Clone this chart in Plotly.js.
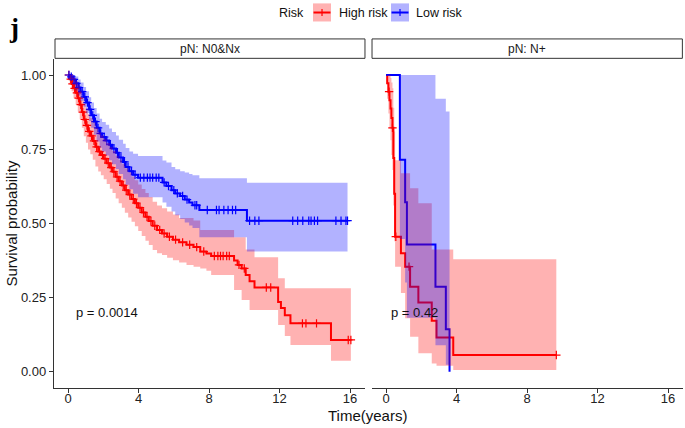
<!DOCTYPE html>
<html>
<head>
<meta charset="utf-8">
<script src="https://cdn.plot.ly/plotly-3.0.1.min.js"></script>
<style>
  body { margin: 0; background: #fff; }
  #km { width: 685px; height: 428px; }
</style>
</head>
<body>
<div id="km"></div>
<script>
// pN: N0&Nx panel - Low risk (blue)
var lowT = [0, 0.12, 0.27, 0.41, 0.58, 0.71, 0.88, 1.02, 1.19, 1.31, 1.47, 1.62, 1.79, 1.93, 2.14, 2.33, 2.49, 2.72, 2.88, 3.12, 3.27, 3.48, 3.69, 3.97, 5.36, 5.58, 5.87, 6.08, 6.36, 6.62, 6.87, 7.06, 7.45, 10.15, 15.86];
var lowS = [1, 0.994, 0.985, 0.972, 0.958, 0.944, 0.926, 0.907, 0.884, 0.864, 0.843, 0.822, 0.803, 0.791, 0.779, 0.765, 0.752, 0.738, 0.722, 0.707, 0.69, 0.676, 0.664, 0.654, 0.638, 0.626, 0.612, 0.601, 0.592, 0.58, 0.57, 0.561, 0.545, 0.509, 0.509];
var lowHi = [1, 1, 1, 0.995, 0.985, 0.975, 0.96, 0.945, 0.925, 0.907, 0.889, 0.87, 0.853, 0.842, 0.832, 0.82, 0.808, 0.796, 0.782, 0.768, 0.754, 0.742, 0.735, 0.727, 0.712, 0.705, 0.69, 0.682, 0.676, 0.671, 0.666, 0.662, 0.652, 0.637, 0.637];
var lowLo = [1, 0.983, 0.966, 0.948, 0.931, 0.913, 0.893, 0.871, 0.845, 0.822, 0.799, 0.776, 0.755, 0.742, 0.729, 0.713, 0.699, 0.683, 0.666, 0.649, 0.63, 0.615, 0.6, 0.588, 0.57, 0.556, 0.54, 0.527, 0.515, 0.503, 0.493, 0.484, 0.453, 0.405, 0.405];
var lowCens = [0.05, 0.18, 0.33, 0.47, 0.62, 0.8, 0.95, 1.1, 1.25, 1.4, 1.55, 1.7, 1.85, 2.05, 2.2, 2.4, 2.6, 2.8, 3.0, 3.2, 3.4, 3.6, 3.8, 4.1, 4.3, 4.5, 4.65, 4.8, 5.0, 5.15, 5.45, 5.7, 6.0, 6.2, 6.5, 6.75, 7.2, 7.3, 7.9, 8.42, 8.57, 8.84, 9.08, 9.33, 9.51, 10.3, 10.6, 10.83, 12.75, 13.03, 13.32, 13.66, 13.79, 13.98, 14.16, 15.2, 15.49, 15.77, 15.86];

// pN: N0&Nx panel - High risk (red)
var highT = [0, 0.09, 0.2, 0.31, 0.43, 0.55, 0.66, 0.78, 0.89, 1.01, 1.13, 1.26, 1.4, 1.55, 1.71, 1.86, 2.02, 2.19, 2.37, 2.52, 2.7, 2.87, 3.05, 3.22, 3.41, 3.6, 3.79, 3.98, 4.18, 4.39, 4.58, 4.8, 5.05, 5.33, 5.62, 5.95, 6.3, 6.72, 7.12, 7.5, 7.85, 8.12, 9.42, 9.62, 9.85, 10.08, 10.3, 10.58, 11.92, 12.08, 12.3, 12.62, 14.92, 16.05];
var highS = [1, 0.986, 0.97, 0.955, 0.94, 0.922, 0.9, 0.875, 0.85, 0.83, 0.81, 0.795, 0.778, 0.758, 0.742, 0.73, 0.718, 0.703, 0.688, 0.674, 0.657, 0.642, 0.628, 0.612, 0.597, 0.582, 0.568, 0.553, 0.537, 0.522, 0.508, 0.492, 0.478, 0.466, 0.455, 0.445, 0.436, 0.428, 0.42, 0.405, 0.398, 0.39, 0.375, 0.36, 0.348, 0.326, 0.305, 0.284, 0.235, 0.215, 0.19, 0.163, 0.107, 0.107];
var highHi = [1, 1, 0.998, 0.99, 0.98, 0.966, 0.948, 0.926, 0.904, 0.886, 0.868, 0.855, 0.84, 0.822, 0.807, 0.796, 0.785, 0.771, 0.757, 0.744, 0.728, 0.714, 0.701, 0.686, 0.672, 0.658, 0.645, 0.631, 0.616, 0.602, 0.589, 0.573, 0.56, 0.551, 0.54, 0.53, 0.518, 0.518, 0.51, 0.478, 0.478, 0.478, 0.453, 0.453, 0.453, 0.412, 0.412, 0.386, 0.315, 0.315, 0.281, 0.281, 0.281, 0.281];
var highLo = [1, 0.972, 0.945, 0.922, 0.9, 0.877, 0.851, 0.822, 0.794, 0.772, 0.749, 0.733, 0.714, 0.692, 0.675, 0.662, 0.649, 0.633, 0.617, 0.602, 0.584, 0.568, 0.553, 0.536, 0.52, 0.505, 0.49, 0.474, 0.457, 0.441, 0.427, 0.41, 0.399, 0.393, 0.384, 0.376, 0.368, 0.36, 0.354, 0.348, 0.34, 0.326, 0.275, 0.275, 0.242, 0.242, 0.208, 0.208, 0.157, 0.157, 0.12, 0.09, 0.037, 0.037];
var highCens = [0.04, 0.15, 0.25, 0.37, 0.5, 0.6, 0.72, 0.83, 0.95, 1.07, 1.2, 1.33, 1.47, 1.62, 1.78, 1.95, 2.1, 2.28, 2.45, 2.6, 2.78, 2.95, 3.13, 3.3, 3.5, 3.7, 3.88, 4.08, 4.28, 4.48, 4.7, 4.92, 5.2, 5.45, 5.75, 6.1, 6.5, 6.9, 7.3, 7.7, 8.3, 8.5, 8.65, 8.8, 9.0, 9.15, 9.7, 10.0, 11.25, 11.5, 13.3, 13.5, 14.1, 15.9, 16.05];

// pN: N+ panel
var lowT2 = [0, 0.78, 1.08, 1.18, 2.8, 3.39, 3.6];
var lowS2 = [1, 0.714, 0.571, 0.429, 0.286, 0.143, 0];
var lowHi2 = [1, 1, 1, 1, 0.92, 0.877, 0.877];
var lowLo2 = [1, 0.447, 0.301, 0.182, 0.089, 0.023, 0.023];

var highT2 = [0, 0.06, 0.13, 0.19, 0.25, 0.3, 0.36, 0.41, 0.46, 0.51, 0.84, 1.08, 1.36, 1.83, 2.59, 2.86, 3.81, 9.66];
var highS2 = [1, 0.972, 0.944, 0.915, 0.887, 0.855, 0.822, 0.72, 0.6, 0.455, 0.399, 0.354, 0.286, 0.233, 0.172, 0.115, 0.056, 0.056];
var highHi2 = [1, 1, 1, 1, 0.99, 0.975, 0.955, 0.89, 0.81, 0.713, 0.669, 0.669, 0.618, 0.568, 0.412, 0.412, 0.379, 0.379];
var highLo2 = [1, 0.92, 0.87, 0.82, 0.78, 0.73, 0.68, 0.56, 0.44, 0.354, 0.265, 0.18, 0.118, 0.062, 0.028, 0.02, 0.006, 0.006];
var highCens2 = [0.17, 0.36, 0.55, 1.3, 9.66];

var panelNames = ['pN: N0&Nx', 'pN: N+'];
var pValues = ['p = 0.0014', 'p = 0.42'];
var xTicks = [0, 4, 8, 12, 16];
var yTicks = [0, 0.25, 0.5, 0.75, 1];

var RED = '#FF0000', BLUE = '#0000FF';
var FONT = 'Liberation Sans, Arial, sans-serif';

// survival value at time t (step function)
function survAt(T, S, t) {
    var v = S[0];
    for (var i = 0; i < T.length; i++) if (T[i] <= t) v = S[i];
    return v;
}

function stepLine(T, S, color, xa) {
    return {x: T, y: S, xaxis: xa, yaxis: 'y', mode: 'lines', line: {shape: 'hv', color: color, width: 2},
            showlegend: false, hoverinfo: 'skip'};
}
function censMarks(cens, T, S, color, xa) {
    return {x: cens, y: cens.map(function (c) { return survAt(T, S, c); }), xaxis: xa, yaxis: 'y', mode: 'markers',
            marker: {symbol: 'cross-thin', size: 6, color: color, line: {color: color, width: 1.2}},
            showlegend: false, hoverinfo: 'skip'};
}
function ribbon(T, lo, hi, fillcolor, xa) {
    return [
        {x: T, y: lo, xaxis: xa, yaxis: 'y', mode: 'lines', line: {shape: 'hv', width: 0}, showlegend: false, hoverinfo: 'skip'},
        {x: T, y: hi, xaxis: xa, yaxis: 'y', mode: 'lines', line: {shape: 'hv', width: 0}, fill: 'tonexty',
         fillcolor: fillcolor, showlegend: false, hoverinfo: 'skip'}
    ];
}

var data = [
    stepLine(highT, highS, RED, 'x'),
    stepLine(lowT, lowS, BLUE, 'x'),
    censMarks(highCens, highT, highS, RED, 'x'),
    censMarks(lowCens, lowT, lowS, BLUE, 'x')
].concat(ribbon(highT, highLo, highHi, 'rgba(255,0,0,0.3)', 'x'))
 .concat(ribbon(lowT, lowLo, lowHi, 'rgba(0,0,255,0.3)', 'x'))
 .concat([
    stepLine(highT2, highS2, RED, 'x2'),
    stepLine(lowT2, lowS2, BLUE, 'x2'),
    censMarks(highCens2, highT2, highS2, RED, 'x2')
 ])
 .concat(ribbon(highT2, highLo2, highHi2, 'rgba(255,0,0,0.3)', 'x2'))
 .concat(ribbon(lowT2, lowLo2, lowHi2, 'rgba(0,0,255,0.3)', 'x2'));

var xCommon = {
    range: [-0.8, 16.85], tickvals: xTicks, ticks: 'outside', ticklen: 4, tickcolor: '#333', tickwidth: 1,
    showline: true, linecolor: '#333', linewidth: 1.2, showgrid: false, zeroline: false, ticklabelstandoff: -6,
    tickfont: {family: FONT, size: 13, color: '#222'}, anchor: 'y', fixedrange: true
};

// plain text label helper, always centred unless told otherwise
function label(text, x, y, size, extra) {
    return Object.assign({text: text, xref: 'paper', yref: 'paper', x: x, y: y, xanchor: 'center', yanchor: 'middle',
                          showarrow: false, font: {size: size, color: '#111'}}, extra || {});
}

var layout = {
    width: 685, height: 428,
    margin: {l: 54, r: 2, t: 59, b: 40},
    paper_bgcolor: '#fff', plot_bgcolor: '#fff',
    font: {family: FONT, color: '#222'},
    showlegend: false,
    xaxis: Object.assign({domain: [0, 0.4944]}, xCommon),
    xaxis2: Object.assign({domain: [0.5056, 1]}, xCommon),
    yaxis: {
        range: [-0.055, 1.054], tickvals: yTicks, tickformat: '.2f', ticks: 'outside', ticklen: 4,
        tickcolor: '#333', showline: true, linecolor: '#333', linewidth: 1.2, showgrid: false, zeroline: false,
        tickfont: {family: FONT, size: 13, color: '#222'}, anchor: 'x', fixedrange: true
    },
    shapes: [
        // facet strips
        {type: 'rect', xref: 'paper', yref: 'paper', x0: 0.0016, x1: 0.4944, y0: 1.002, y1: 1.061, line: {color: '#333', width: 1}, fillcolor: '#fff'},
        {type: 'rect', xref: 'paper', yref: 'paper', x0: 0.5056, x1: 0.999, y0: 1.002, y1: 1.061, line: {color: '#333', width: 1}, fillcolor: '#fff'},
        // legend keys
        {type: 'rect', xref: 'paper', yref: 'paper', x0: 0.4118, x1: 0.4404, y0: 1.114, y1: 1.169, line: {width: 0}, fillcolor: 'rgba(255,0,0,0.3)'},
        {type: 'line', xref: 'paper', yref: 'paper', x0: 0.4126, x1: 0.4396, y0: 1.1413, y1: 1.1413, line: {color: RED, width: 2}},
        {type: 'line', xref: 'paper', yref: 'paper', x0: 0.4261, x1: 0.4261, y0: 1.131, y1: 1.152, line: {color: RED, width: 1.2}},
        {type: 'rect', xref: 'paper', yref: 'paper', x0: 0.5358, x1: 0.5644, y0: 1.114, y1: 1.169, line: {width: 0}, fillcolor: 'rgba(0,0,255,0.3)'},
        {type: 'line', xref: 'paper', yref: 'paper', x0: 0.5366, x1: 0.5636, y0: 1.1413, y1: 1.1413, line: {color: BLUE, width: 2}},
        {type: 'line', xref: 'paper', yref: 'paper', x0: 0.5501, x1: 0.5501, y0: 1.131, y1: 1.152, line: {color: BLUE, width: 1.2}}
    ],
    annotations: [
        label(panelNames[0], 0.248, 1.031, 12, {font: {size: 12, color: '#1a1a1a'}}),
        label(panelNames[1], 0.7523, 1.031, 12, {font: {size: 12, color: '#1a1a1a'}}),
        {text: pValues[0], xref: 'x', yref: 'y', x: 0.35, y: 0.2, xanchor: 'left', yanchor: 'middle', showarrow: false, font: {size: 13, color: '#111'}},
        {text: pValues[1], xref: 'x2', yref: 'y', x: 0.17, y: 0.2, xanchor: 'left', yanchor: 'middle', showarrow: false, font: {size: 13, color: '#111'}},
        label('Time(years)', 0.4992, -0.083, 15),
        label('Survival probability', -0.0668, 0.5, 15, {textangle: -90}),
        label('Risk', 0.4006, 1.1413, 12.5, {xanchor: 'right'}),
        label('High risk', 0.4498, 1.1413, 12.5, {xanchor: 'left'}),
        label('Low risk', 0.5724, 1.1413, 12.5, {xanchor: 'left'}),
        label('<b>j</b>', -0.0636, 1.094, 27, {font: {family: 'Liberation Serif, DejaVu Serif, serif', size: 27, color: '#000'}})
    ]
};

Plotly.newPlot('km', data, layout, {displayModeBar: false, staticPlot: true});
</script>
</body>
</html>
